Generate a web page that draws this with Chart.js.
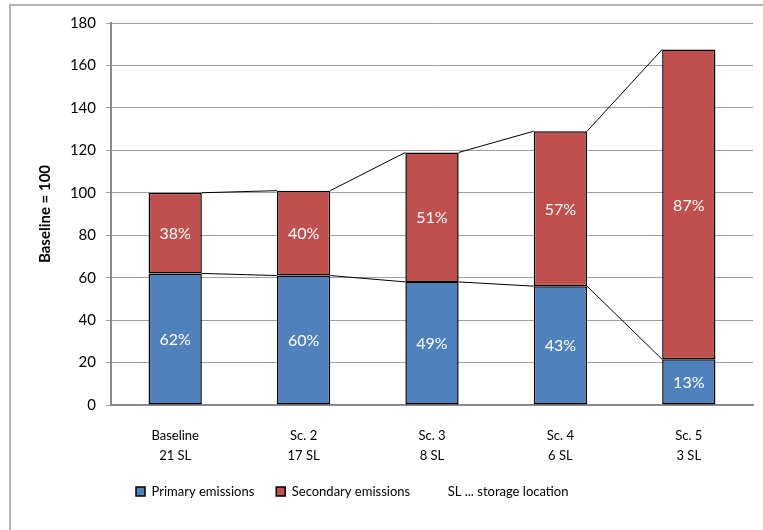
<!DOCTYPE html>
<html>
<head>
<meta charset="utf-8">
<script src="https://cdn.jsdelivr.net/npm/chart.js@4/dist/chart.umd.min.js"></script>
<style>
  html, body { margin: 0; padding: 0; background: #fff; }
  #wrap { width: 763px; height: 530px; position: relative; }
</style>
</head>
<body>
<div id="wrap"><canvas id="c" width="763" height="530"></canvas></div>
<script>
const categories = [["Baseline", "21 SL"], ["Sc. 2", "17 SL"], ["Sc. 3", "8 SL"], ["Sc. 4", "6 SL"], ["Sc. 5", "3 SL"]];
const primaryEmissions = [62, 61, 58, 56, 21.5];
const secondaryEmissions = [38, 40, 61, 73, 146];
const yTicks = [0, 20, 40, 60, 80, 100, 120, 140, 160, 180];
const seriesNames = ["Primary emissions", "Secondary emissions", "SL ... storage location"];
const yTitle = "Baseline = 100";

const FONT = "Lato, 'Open Sans', sans-serif";
const BLUE = "#4F81BD";
const RED = "#C0504D";

const totals = primaryEmissions.map((v, i) => v + secondaryEmissions[i]);

const framePlugin = {
  id: 'frame',
  beforeDraw(chart) {
    const ctx = chart.ctx;
    ctx.save();
    ctx.fillStyle = '#fff';
    ctx.fillRect(0, 0, chart.width, chart.height);
    ctx.strokeStyle = '#b4b4b4';
    ctx.lineWidth = 2;
    ctx.strokeRect(10, 5, chart.width + 20, chart.height + 20);
    ctx.restore();
  }
};

const legendShift = {
  id: 'legendShift',
  afterLayout(chart) {
    if (chart.legend) {
      chart.legend.left = 114;
    }
  }
};

const connectorPlugin = {
  id: 'connectors',
  afterDatasetsDraw(chart) {
    const ctx = chart.ctx;
    ctx.save();
    ctx.strokeStyle = '#000';
    ctx.lineWidth = 1;
    [0, 1].forEach(di => {
      const meta = chart.getDatasetMeta(di);
      for (let i = 0; i < meta.data.length - 1; i++) {
        const a = meta.data[i], b = meta.data[i + 1];
        ctx.beginPath();
        ctx.moveTo(a.x + a.width / 2, a.y);
        ctx.lineTo(b.x - b.width / 2, b.y);
        ctx.stroke();
      }
    });
    // percentage labels
    ctx.fillStyle = '#fff';
    ctx.font = "16px " + FONT;
    ctx.textAlign = 'center';
    ctx.textBaseline = 'middle';
    [0, 1].forEach(di => {
      const meta = chart.getDatasetMeta(di);
      const vals = chart.data.datasets[di].data;
      meta.data.forEach((el, i) => {
        const pct = Math.round(vals[i] / totals[i] * 100) + '%';
        const cy = (el.y + el.base) / 2;
        ctx.fillText(pct, el.x, cy + 1);
      });
    });
    ctx.restore();
  }
};

new Chart(document.getElementById('c'), {
  type: 'bar',
  data: {
    labels: categories,
    datasets: [
      { label: seriesNames[0], data: primaryEmissions, backgroundColor: BLUE, borderColor: '#000', borderWidth: 1.5, borderSkipped: false },
      { label: seriesNames[1], data: secondaryEmissions, backgroundColor: RED, borderColor: '#000', borderWidth: 1.5, borderSkipped: false },
      { label: seriesNames[2], data: [], backgroundColor: 'rgba(0,0,0,0)', borderColor: 'rgba(0,0,0,0)', borderWidth: 0 }
    ]
  },
  options: {
    responsive: false,
    animation: false,
    devicePixelRatio: 1,
    datasets: { bar: { categoryPercentage: 1.0, barPercentage: 0.415 } },
    layout: { padding: { left: 10, right: 10, top: 23, bottom: 22 } },
    plugins: {
      tooltip: { enabled: false },
      legend: {
        position: 'bottom',
        align: 'start',
        labels: {
          boxWidth: 9,
          boxHeight: 9,
          padding: 22,
          color: '#000',
          font: { family: FONT, size: 13 }
        }
      }
    },
    scales: {
      x: {
        stacked: true,
        grid: { display: false, drawTicks: false },
        border: { display: true, color: '#8a8a8a', width: 2 },
        ticks: { color: '#000', padding: 20, font: { family: FONT, size: 13, lineHeight: 1.6 }, maxRotation: 0, autoSkip: false },
        afterFit(scale) { scale.height = 58; }
      },
      y: {
        stacked: true,
        min: 0,
        max: 180,
        afterBuildTicks(scale) { scale.ticks = yTicks.map(v => ({ value: v })); },
        grid: { color: '#a0a0a0', lineWidth: 1, tickLength: 5, drawTicks: true },
        border: { display: true, color: '#8a8a8a', width: 2 },
        ticks: { color: '#000', padding: 10, font: { family: FONT, size: 15 } },
        title: { display: true, text: yTitle, color: '#000', font: { family: FONT, size: 15, weight: 'bold', lineHeight: 1.2 }, padding: { top: 26, bottom: 0 } },
        afterFit(scale) { scale.width = 101; }
      }
    }
  },
  plugins: [framePlugin, legendShift, connectorPlugin]
});
</script>
</body>
</html>
